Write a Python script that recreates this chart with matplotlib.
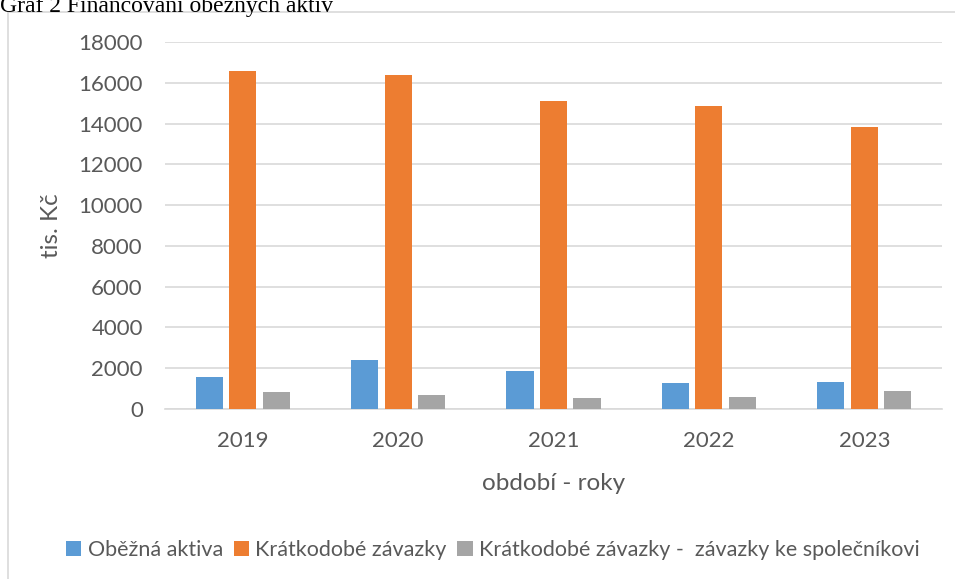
import numpy as np
import matplotlib.pyplot as plt
from matplotlib.patches import Rectangle

# data (tis. Kč)
roky = ['2019', '2020', '2021', '2022', '2023']
obezna_aktiva = [1590, 2380, 1870, 1280, 1310]
kratkodobe_zavazky = [16600, 16380, 15100, 14850, 13820]
zavazky_spolecnik = [850, 690, 540, 575, 880]

serie = [
    ('Oběžná aktiva', obezna_aktiva, '#5B9BD5'),
    ('Krátkodobé závazky', kratkodobe_zavazky, '#ED7D31'),
    ('Krátkodobé závazky -  závazky ke společníkovi', zavazky_spolecnik, '#A5A5A5'),
]

plt.rcParams['font.family'] = ['Lato', 'DejaVu Sans']
text_col = '#595959'

fig = plt.figure(figsize=(9.55, 5.79), dpi=100)

# chart frame and caption above it
fig.patches.append(Rectangle((8 / 955, -0.05), 1.2, (579 - 12) / 579 + 0.05,
                             transform=fig.transFigure, fill=False,
                             edgecolor='#D9D9D9', linewidth=1.2))
fig.text(0.0, 1.0 + 4 / 579, 'Graf 2 Financování oběžných aktiv', family='Liberation Serif',
         fontsize=17, va='top', ha='left', color='black')

ax = fig.add_axes([165 / 955, (579 - 409) / 579, (942 - 165) / 955, (409 - 42) / 579])

x = np.arange(len(roky))
w = 0.175
off = 0.215
handles = []
for i, (name, vals, col) in enumerate(serie):
    b = ax.bar(x + (i - 1) * off, vals, width=w, color=col, label=name, zorder=3)
    handles.append(b)

ax.set_xlim(-0.5, len(roky) - 0.5)
ax.set_ylim(0, 18000)
ax.set_yticks(range(0, 18001, 2000))
ax.set_xticks(x)
ax.set_xticklabels(roky)
ax.grid(axis='y', color='#D9D9D9', linewidth=1.2, zorder=0)
for s in ['top', 'right', 'left']:
    ax.spines[s].set_visible(False)
ax.spines['bottom'].set_color('#D9D9D9')
ax.spines['bottom'].set_linewidth(1.2)
ax.tick_params(length=0, labelsize=16, colors=text_col)
ax.tick_params(axis='y', pad=16)
ax.tick_params(axis='x', pad=16)
ax.set_ylabel('tis. Kč', fontsize=17.5, color=text_col, labelpad=12)
ax.set_xlabel('období - roky', fontsize=17.5, color=text_col, labelpad=16)

fig.legend(handles=handles, loc='center', bbox_to_anchor=(493 / 955, 1 - 550 / 579),
           ncol=3, frameon=False, fontsize=15.5, handlelength=0.7, handleheight=0.7,
           handletextpad=0.3, columnspacing=0.5, labelcolor=text_col)

fig.savefig('out.png', dpi=100)
